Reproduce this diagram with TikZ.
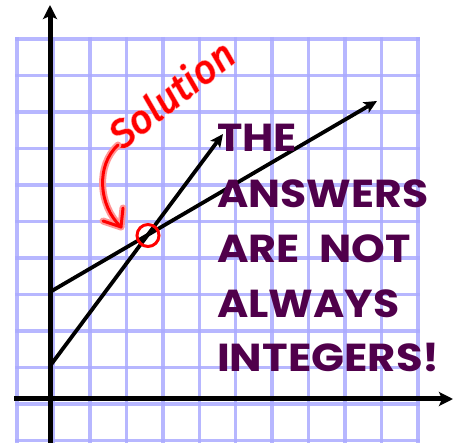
\documentclass[tikz,border=0pt]{standalone}
\usepackage{fontspec}
\usetikzlibrary{arrows.meta}
\newfontfamily\capsfont{Poppins}
\newfontfamily\handfont{Fira Sans}[FakeBold=1.5]
\newfontfamily\handglowfont{Fira Sans}[FakeBold=5]
\definecolor{gridblue}{RGB}{170,170,255}
\definecolor{msgpurple}{RGB}{80,0,75}
\definecolor{glowred}{RGB}{255,150,150}
\definecolor{inkred}{RGB}{255,0,0}
\begin{document}
\begin{tikzpicture}[x=1pt,y=-1pt,
  gridline/.style={draw=gridblue,line width=3.5pt,opacity=0.85},
  axisline/.style={draw=black,line width=5pt,-{Stealth[length=14pt,width=14pt,inset=3pt]}},
  dataline/.style={draw=black,line width=3.8pt,-{Stealth[length=13pt,width=12pt,inset=3pt]}},
  msg/.style={anchor=base west,inner sep=0pt,text=msgpurple,font=\capsfont\bfseries\fontsize{39}{39}\selectfont},
  glowpath/.style={draw=glowred,line width=7pt,line cap=round,line join=round},
  inkpath/.style={draw=inkred,line width=3pt,line cap=round,line join=round},
  soltext/.style={inner sep=0pt,rotate=38,text=inkred,font=\handfont\itshape\fontsize{39}{39}\selectfont},
  solglow/.style={inner sep=0pt,rotate=38,text=glowred,font=\handglowfont\itshape\fontsize{39}{39}\selectfont}]
\useasboundingbox (0,0) rectangle (458,443);
% grid
\foreach \k in {0,...,11} {
  \draw[gridline] ({17+36.45*\k},37) -- ({17+36.45*\k},443);
}
\foreach \k in {0,...,11} {
  \draw[gridline] (15,{39+36.5*\k}) -- (420,{39+36.5*\k});
}
% axes
\coordinate (ybot) at (50,443);
\coordinate (ytop) at (50,5);
\coordinate (xleft) at (14,399);
\coordinate (xright) at (453,399);
\draw[axisline] (ybot) -- (ytop);
\draw[axisline] (xleft) -- (xright);
% lines
\coordinate (a0) at (50,366);
\coordinate (a1) at (223,134);
\coordinate (b0) at (50,292);
\coordinate (b1) at (377,101);
\draw[dataline] (a0) -- (a1);
\draw[dataline] (b0) -- (b1);
% solution circle
\node[circle,draw=inkred,line width=3pt,minimum size=22pt,inner sep=0pt] (sol) at (148,235.5) {};
% Solution label
\node[solglow] (solglow) at (171,93) {Solution};
\node[soltext] (soltxt) at (171,93) {Solution};
% curved arrow
\coordinate (cs) at (118,145);
\coordinate (ce) at (121,227);
\coordinate (hl) at (103,221);
\coordinate (hr) at (123,208);
\draw[glowpath] (cs) .. controls (96,165) and (98,205) .. (ce);
\draw[glowpath] (hl) -- (ce) -- (hr);
\draw[inkpath] (cs) .. controls (96,165) and (98,205) .. (ce);
\draw[inkpath] (hl) -- (ce) -- (hr);
% message
\node[msg] (m1) at (217,152) {\scalebox{1.1}[1]{THE}};
\node[msg] (m2) at (217,208) {\scalebox{1.09}[1]{ANSWERS}};
\node[msg] (m3) at (217,263) {\scalebox{1.1}[1]{ARE\hspace{0.45em}NOT}};
\node[msg] (m4) at (217,318) {\scalebox{1.09}[1]{ALWAYS}};
\node[msg] (m5) at (217,372) {\scalebox{1.11}[1]{INTEGERS!}};
\end{tikzpicture}
\end{document}
